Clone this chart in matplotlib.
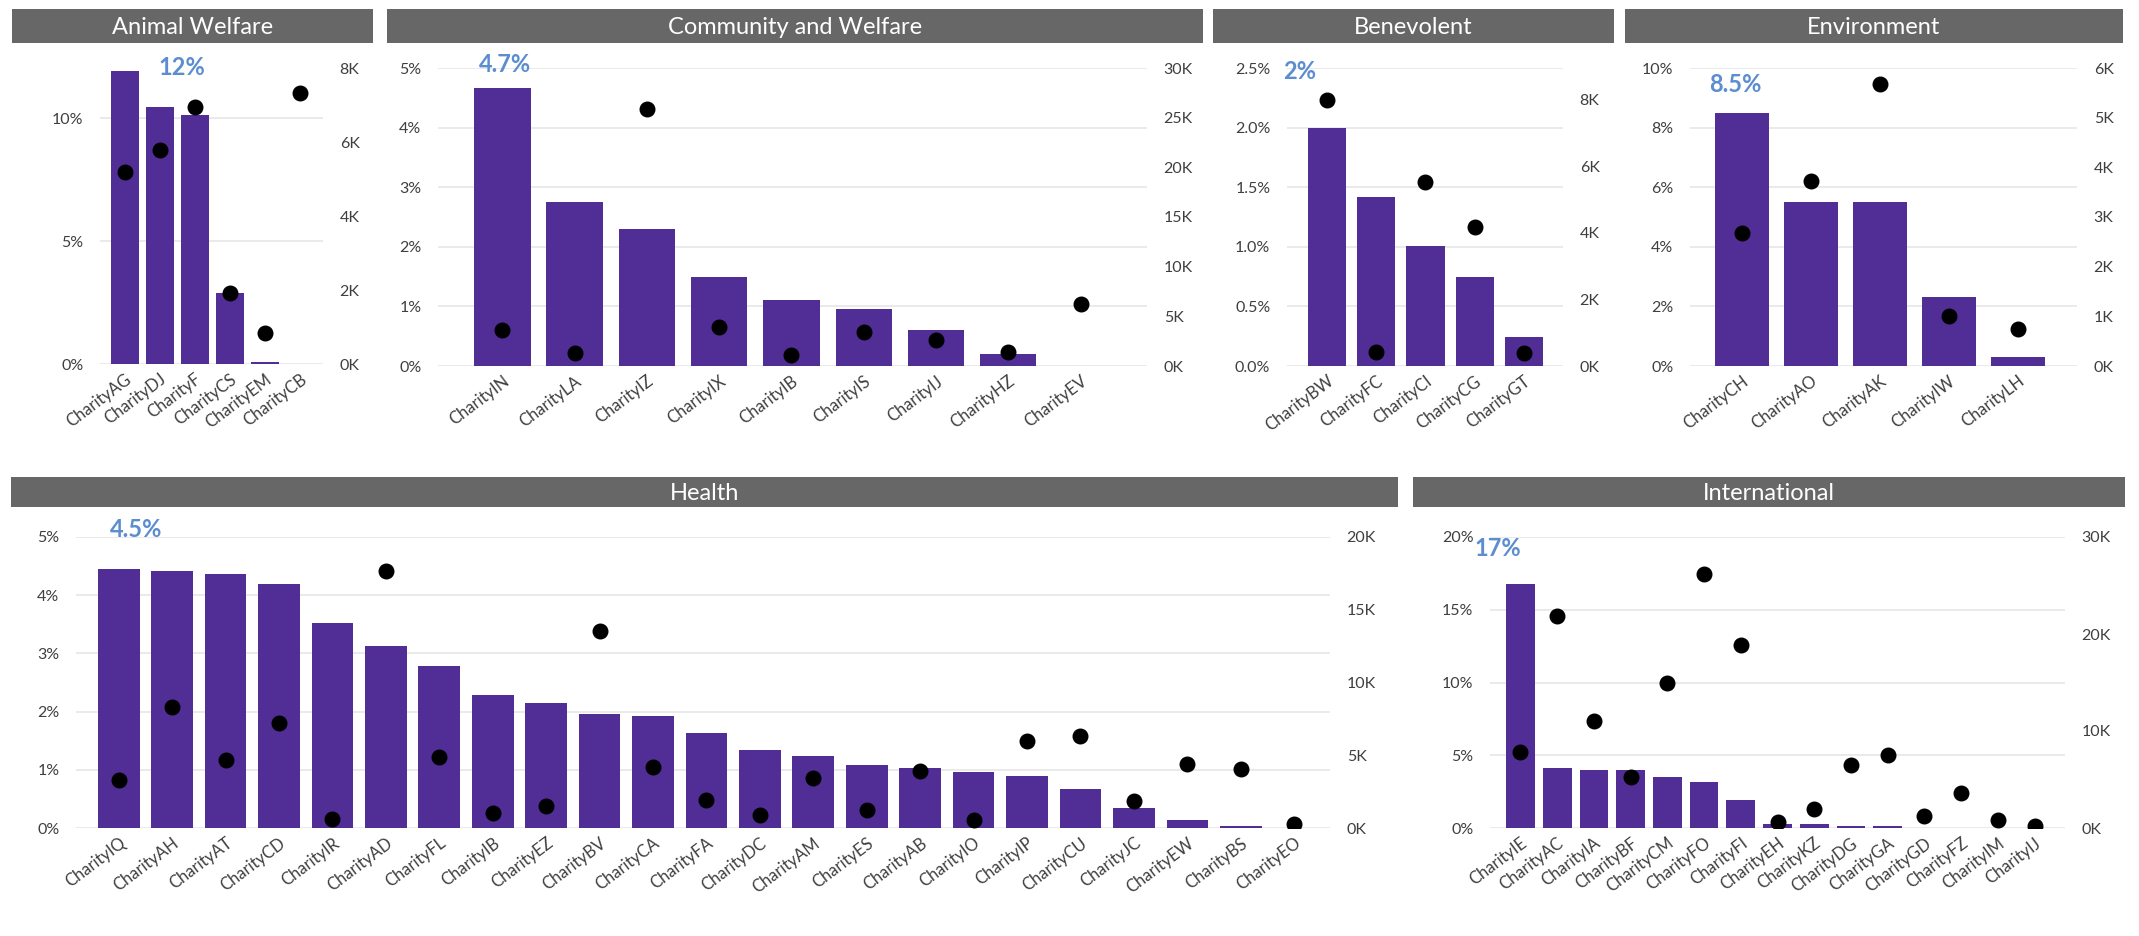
import numpy as np
import matplotlib
matplotlib.use("Agg")
import matplotlib.pyplot as plt
from matplotlib.transforms import blended_transform_factory, ScaledTranslation

plt.rcParams['font.family'] = ['Lato', 'DejaVu Sans']

# ---- data: share of income (%) as bars, count in thousands as dots ----
animal_names = ['CharityAG', 'CharityDJ', 'CharityF', 'CharityCS', 'CharityEM', 'CharityCB']
animal_pct = [11.9, 10.46, 10.12, 2.87, 0.08, 0.0]
animal_k = [5.19, 5.78, 6.95, 1.91, 0.85, 7.33]

community_names = ['CharityIN', 'CharityLA', 'CharityIZ', 'CharityIX', 'CharityIB',
                   'CharityIS', 'CharityIJ', 'CharityHZ', 'CharityEV']
community_pct = [4.66, 2.76, 2.30, 1.50, 1.10, 0.95, 0.61, 0.20, 0.0]
community_k = [3.63, 1.34, 25.9, 3.96, 1.07, 3.46, 2.63, 1.45, 6.2]

benevolent_names = ['CharityBW', 'CharityFC', 'CharityCI', 'CharityCG', 'CharityGT']
benevolent_pct = [2.0, 1.42, 1.01, 0.75, 0.24]
benevolent_k = [7.98, 0.43, 5.53, 4.17, 0.40]

environment_names = ['CharityCH', 'CharityAO', 'CharityAK', 'CharityIW', 'CharityLH']
environment_pct = [8.49, 5.49, 5.49, 2.33, 0.31]
environment_k = [2.68, 3.73, 5.68, 1.01, 0.74]

health_names = ['CharityIQ', 'CharityAH', 'CharityAT', 'CharityCD', 'CharityIR', 'CharityAD',
                'CharityFL', 'CharityIB', 'CharityEZ', 'CharityBV', 'CharityCA', 'CharityFA',
                'CharityDC', 'CharityAM', 'CharityES', 'CharityAB', 'CharityIO', 'CharityIP',
                'CharityCU', 'CharityJC', 'CharityEW', 'CharityBS', 'CharityEO']
health_pct = [4.45, 4.41, 4.36, 4.19, 3.52, 3.12, 2.79, 2.28, 2.14, 1.96, 1.92, 1.63,
              1.34, 1.24, 1.08, 1.03, 0.96, 0.89, 0.67, 0.34, 0.13, 0.03, 0.0]
health_k = [3.28, 8.33, 4.66, 7.22, 0.62, 17.66, 4.89, 1.03, 1.54, 13.53, 4.2, 1.95,
            0.92, 3.44, 1.26, 3.94, 0.55, 5.96, 6.35, 1.88, 4.4, 4.06, 0.28]

intl_names = ['CharityIE', 'CharityAC', 'CharityIA', 'CharityBF', 'CharityCM', 'CharityFO',
              'CharityFI', 'CharityEH', 'CharityKZ', 'CharityDG', 'CharityGA', 'CharityGD',
              'CharityFZ', 'CharityIM', 'CharityIJ']
intl_pct = [16.77, 4.09, 3.98, 3.98, 3.52, 3.14, 1.93, 0.27, 0.30, 0.11, 0.11, 0, 0, 0, 0]
intl_k = [7.85, 21.88, 11.02, 5.22, 14.95, 26.14, 18.87, 0.61, 1.91, 6.48, 7.51,
          1.23, 3.62, 0.78, 0.17]

# ---- layout (pixels) and axis settings per panel ----
W, H = 2139, 936
panels = [
    dict(title='Animal Welfare', names=animal_names, pct=animal_pct, k=animal_k,
         plot=(100, 68, 323, 364), head=(12, 9, 373, 43), xlim=(-0.71, 5.66),
         pmax=12.04, pticks=[0, 5, 10], pdec=0, kmax=8, kticks=[0, 2, 4, 6, 8],
         lab=(1.63, 1.003)),
    dict(title='Community and Welfare', names=community_names, pct=community_pct, k=community_k,
         plot=(438, 68, 1147, 366), head=(387, 9, 1203, 43), xlim=(-0.89, 8.92),
         pmax=5, pticks=[0, 1, 2, 3, 4, 5], pdec=0, kmax=30, kticks=[0, 5, 10, 15, 20, 25, 30],
         lab=(0.04, 1.013)),
    dict(title='Benevolent', names=benevolent_names, pct=benevolent_pct, k=benevolent_k,
         plot=(1287, 68, 1563, 366), head=(1213, 9, 1614, 43), xlim=(-0.81, 4.79),
         pmax=2.5, pticks=[0, 0.5, 1.0, 1.5, 2.0, 2.5], pdec=1, kmax=8.95, kticks=[0, 2, 4, 6, 8],
         lab=(-0.55, 0.987)),
    dict(title='Environment', names=environment_names, pct=environment_pct, k=environment_k,
         plot=(1690, 68, 2077, 366), head=(1625, 9, 2123, 43), xlim=(-0.75, 4.86),
         pmax=10, pticks=[0, 2, 4, 6, 8, 10], pdec=0, kmax=6, kticks=[0, 1, 2, 3, 4, 5, 6],
         lab=(-0.1, 0.943)),
    dict(title='Health', names=health_names, pct=health_pct, k=health_k,
         plot=(76, 537, 1330, 828), head=(11, 477, 1398, 507), xlim=(-0.8, 22.67),
         pmax=5, pticks=[0, 1, 2, 3, 4, 5], pdec=0, kmax=20, kticks=[0, 5, 10, 15, 20],
         lab=(0.32, 1.027)),
    dict(title='International', names=intl_names, pct=intl_pct, k=intl_k,
         plot=(1490, 537, 2065, 828), head=(1413, 477, 2125, 507), xlim=(-0.83, 14.83),
         pmax=20, pticks=[0, 5, 10, 15, 20], pdec=0, kmax=30, kticks=[0, 10, 20, 30],
         lab=(-0.61, 0.962)),
]

BAR = '#512d96'
HEAD = '#676767'
GRID = '#e6e6e6'
TXT = '#3f3f3f'
HILITE = '#5b8dcf'


def rect(x0, y0, x1, y1):
    return [x0 / W, 1 - y1 / H, (x1 - x0) / W, (y1 - y0) / H]


fig = plt.figure(figsize=(W / 100, H / 100), dpi=100)

for p in panels:
    # grey title strip
    hax = fig.add_axes(rect(*p['head']))
    hax.set_facecolor(HEAD)
    hax.set_xticks([])
    hax.set_yticks([])
    for s in hax.spines.values():
        s.set_visible(False)
    hax.text(0.5, 0.45, p['title'], color='white', fontsize=17,
             ha='center', va='center', transform=hax.transAxes)

    ax = fig.add_axes(rect(*p['plot']))
    x = np.arange(len(p['names']))
    ax.bar(x, p['pct'], width=0.78, color=BAR, linewidth=0, zorder=2)
    ax.set_xlim(*p['xlim'])
    ax.set_ylim(0, p['pmax'])
    ax.set_yticks(p['pticks'])
    ax.set_yticklabels([f"{v:.{p['pdec']}f}%" for v in p['pticks']])
    ax.yaxis.grid(True, color=GRID, linewidth=1.2)
    ax.set_axisbelow(True)
    ax.set_xticks(x)
    ax.set_xticklabels(p['names'], rotation=37, ha='right', va='top',
                       rotation_mode='anchor', fontsize=12, color=TXT)
    for lbl in ax.get_xticklabels():
        lbl.set_transform(lbl.get_transform() +
                          ScaledTranslation(-11 / 72, 0, fig.dpi_scale_trans))
    ax.tick_params(axis='both', length=0, labelsize=11.5, labelcolor=TXT)
    ax.tick_params(axis='x', labelsize=12, pad=5)
    ax.tick_params(axis='y', pad=12)
    for s in ax.spines.values():
        s.set_visible(False)

    ax2 = ax.twinx()
    ax2.scatter(x, p['k'], s=110, color='black', zorder=3)
    ax2.set_ylim(0, p['kmax'])
    ax2.set_yticks(p['kticks'])
    ax2.set_yticklabels([f"{v:.0f}K" for v in p['kticks']])
    ax2.tick_params(axis='y', length=0, pad=12, labelsize=11.5, labelcolor=TXT)
    for s in ax2.spines.values():
        s.set_visible(False)

    # highlight the largest share above the chart
    top = max(p['pct'])
    tr = blended_transform_factory(ax.transData, ax.transAxes)
    ax2.text(p['lab'][0], p['lab'][1], f"{top:.2g}%", transform=tr,
             ha='center', va='center', color=HILITE, fontsize=17, fontweight='bold')

fig.savefig('out.png', dpi=100)
